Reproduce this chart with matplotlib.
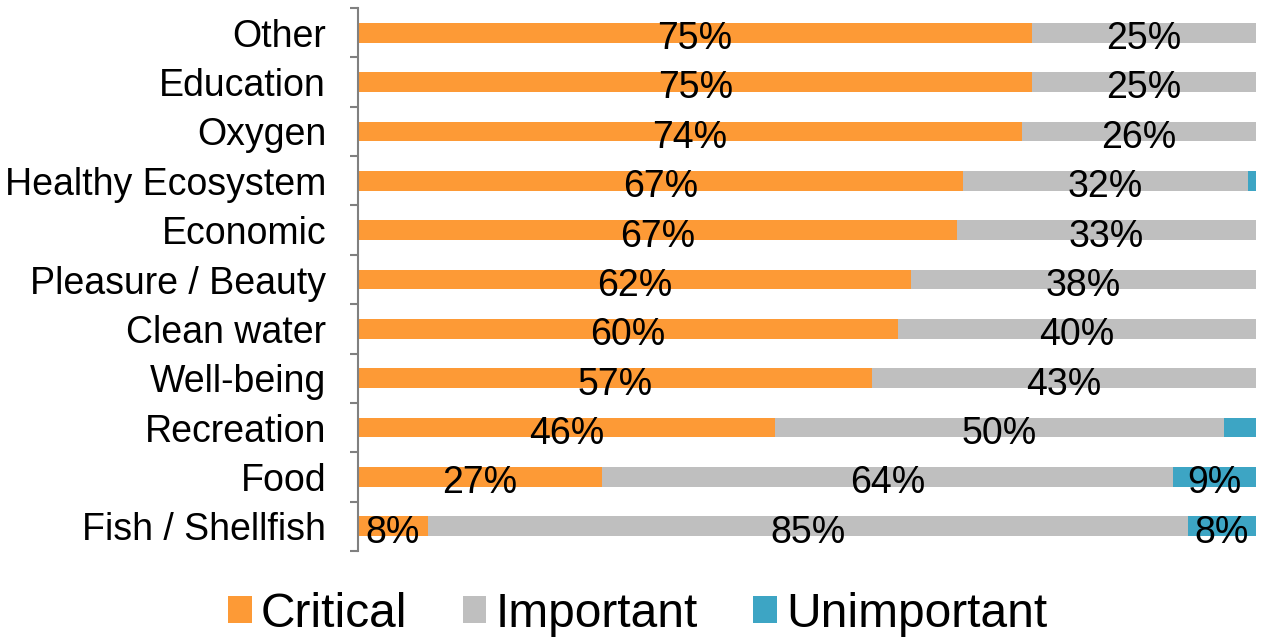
import matplotlib
matplotlib.use("Agg")
import matplotlib.pyplot as plt
import numpy as np

categories = ["Fish / Shellfish", "Food", "Recreation", "Well-being", "Clean water",
              "Pleasure / Beauty", "Economic", "Healthy Ecosystem", "Oxygen",
              "Education", "Other"]
critical = [7.8, 27.2, 46.4, 57.2, 60.1, 61.6, 66.7, 67.4, 73.9, 75.1, 75.0]
important = [84.6, 63.6, 50.0, 42.8, 39.9, 38.4, 33.3, 31.7, 26.1, 24.9, 25.0]
unimportant = [7.6, 9.2, 3.6, 0.0, 0.0, 0.0, 0.0, 0.9, 0.0, 0.0, 0.0]
series_names = ["Critical", "Important", "Unimportant"]
colors = ["#FD9A36", "#BFBFBF", "#3DA5C4"]

plt.rcParams['font.family'] = ['Liberation Sans', 'DejaVu Sans']

fig = plt.figure(figsize=(12.68, 6.4), dpi=100)
ax = fig.add_axes([358/1268, 1-551/640, (1256-358)/1268, (551-8)/640])

y = np.arange(len(categories))
left = np.zeros(len(categories))
for vals, name, col in zip([critical, important, unimportant], series_names, colors):
    vals = np.array(vals)
    ax.barh(y, vals, left=left, height=0.4, color=col, label=name, edgecolor='none')
    for yi, (l, v) in enumerate(zip(left, vals)):
        if v >= 5:
            ax.text(l + v/2, yi - 0.13, f"{v:.0f}%", ha='center', va='center',
                    fontsize=27, color='black')
    left = left + vals

ax.set_xlim(0, 100)
ax.set_ylim(-0.5, len(categories) - 0.5)
ax.set_yticks(y)
ax.set_yticklabels(categories, fontsize=27)
ax.tick_params(axis='y', which='major', length=0, pad=23)
ax.set_yticks(np.arange(-0.5, len(categories), 1.0), minor=True)
ax.tick_params(axis='y', which='minor', length=6, width=1.5, color='#808080', left=True)
ax.set_xticks([])
for s in ['top', 'right', 'bottom']:
    ax.spines[s].set_visible(False)
ax.spines['left'].set_color('#808080')
ax.spines['left'].set_linewidth(1.5)

leg = fig.legend(loc='lower center', bbox_to_anchor=(0.503, -0.062), ncol=3, frameon=False,
                 fontsize=34.5, handlelength=0.49, handleheight=0.49, handletextpad=0.2,
                 columnspacing=1.15)

fig.savefig("out.png", dpi=100)
